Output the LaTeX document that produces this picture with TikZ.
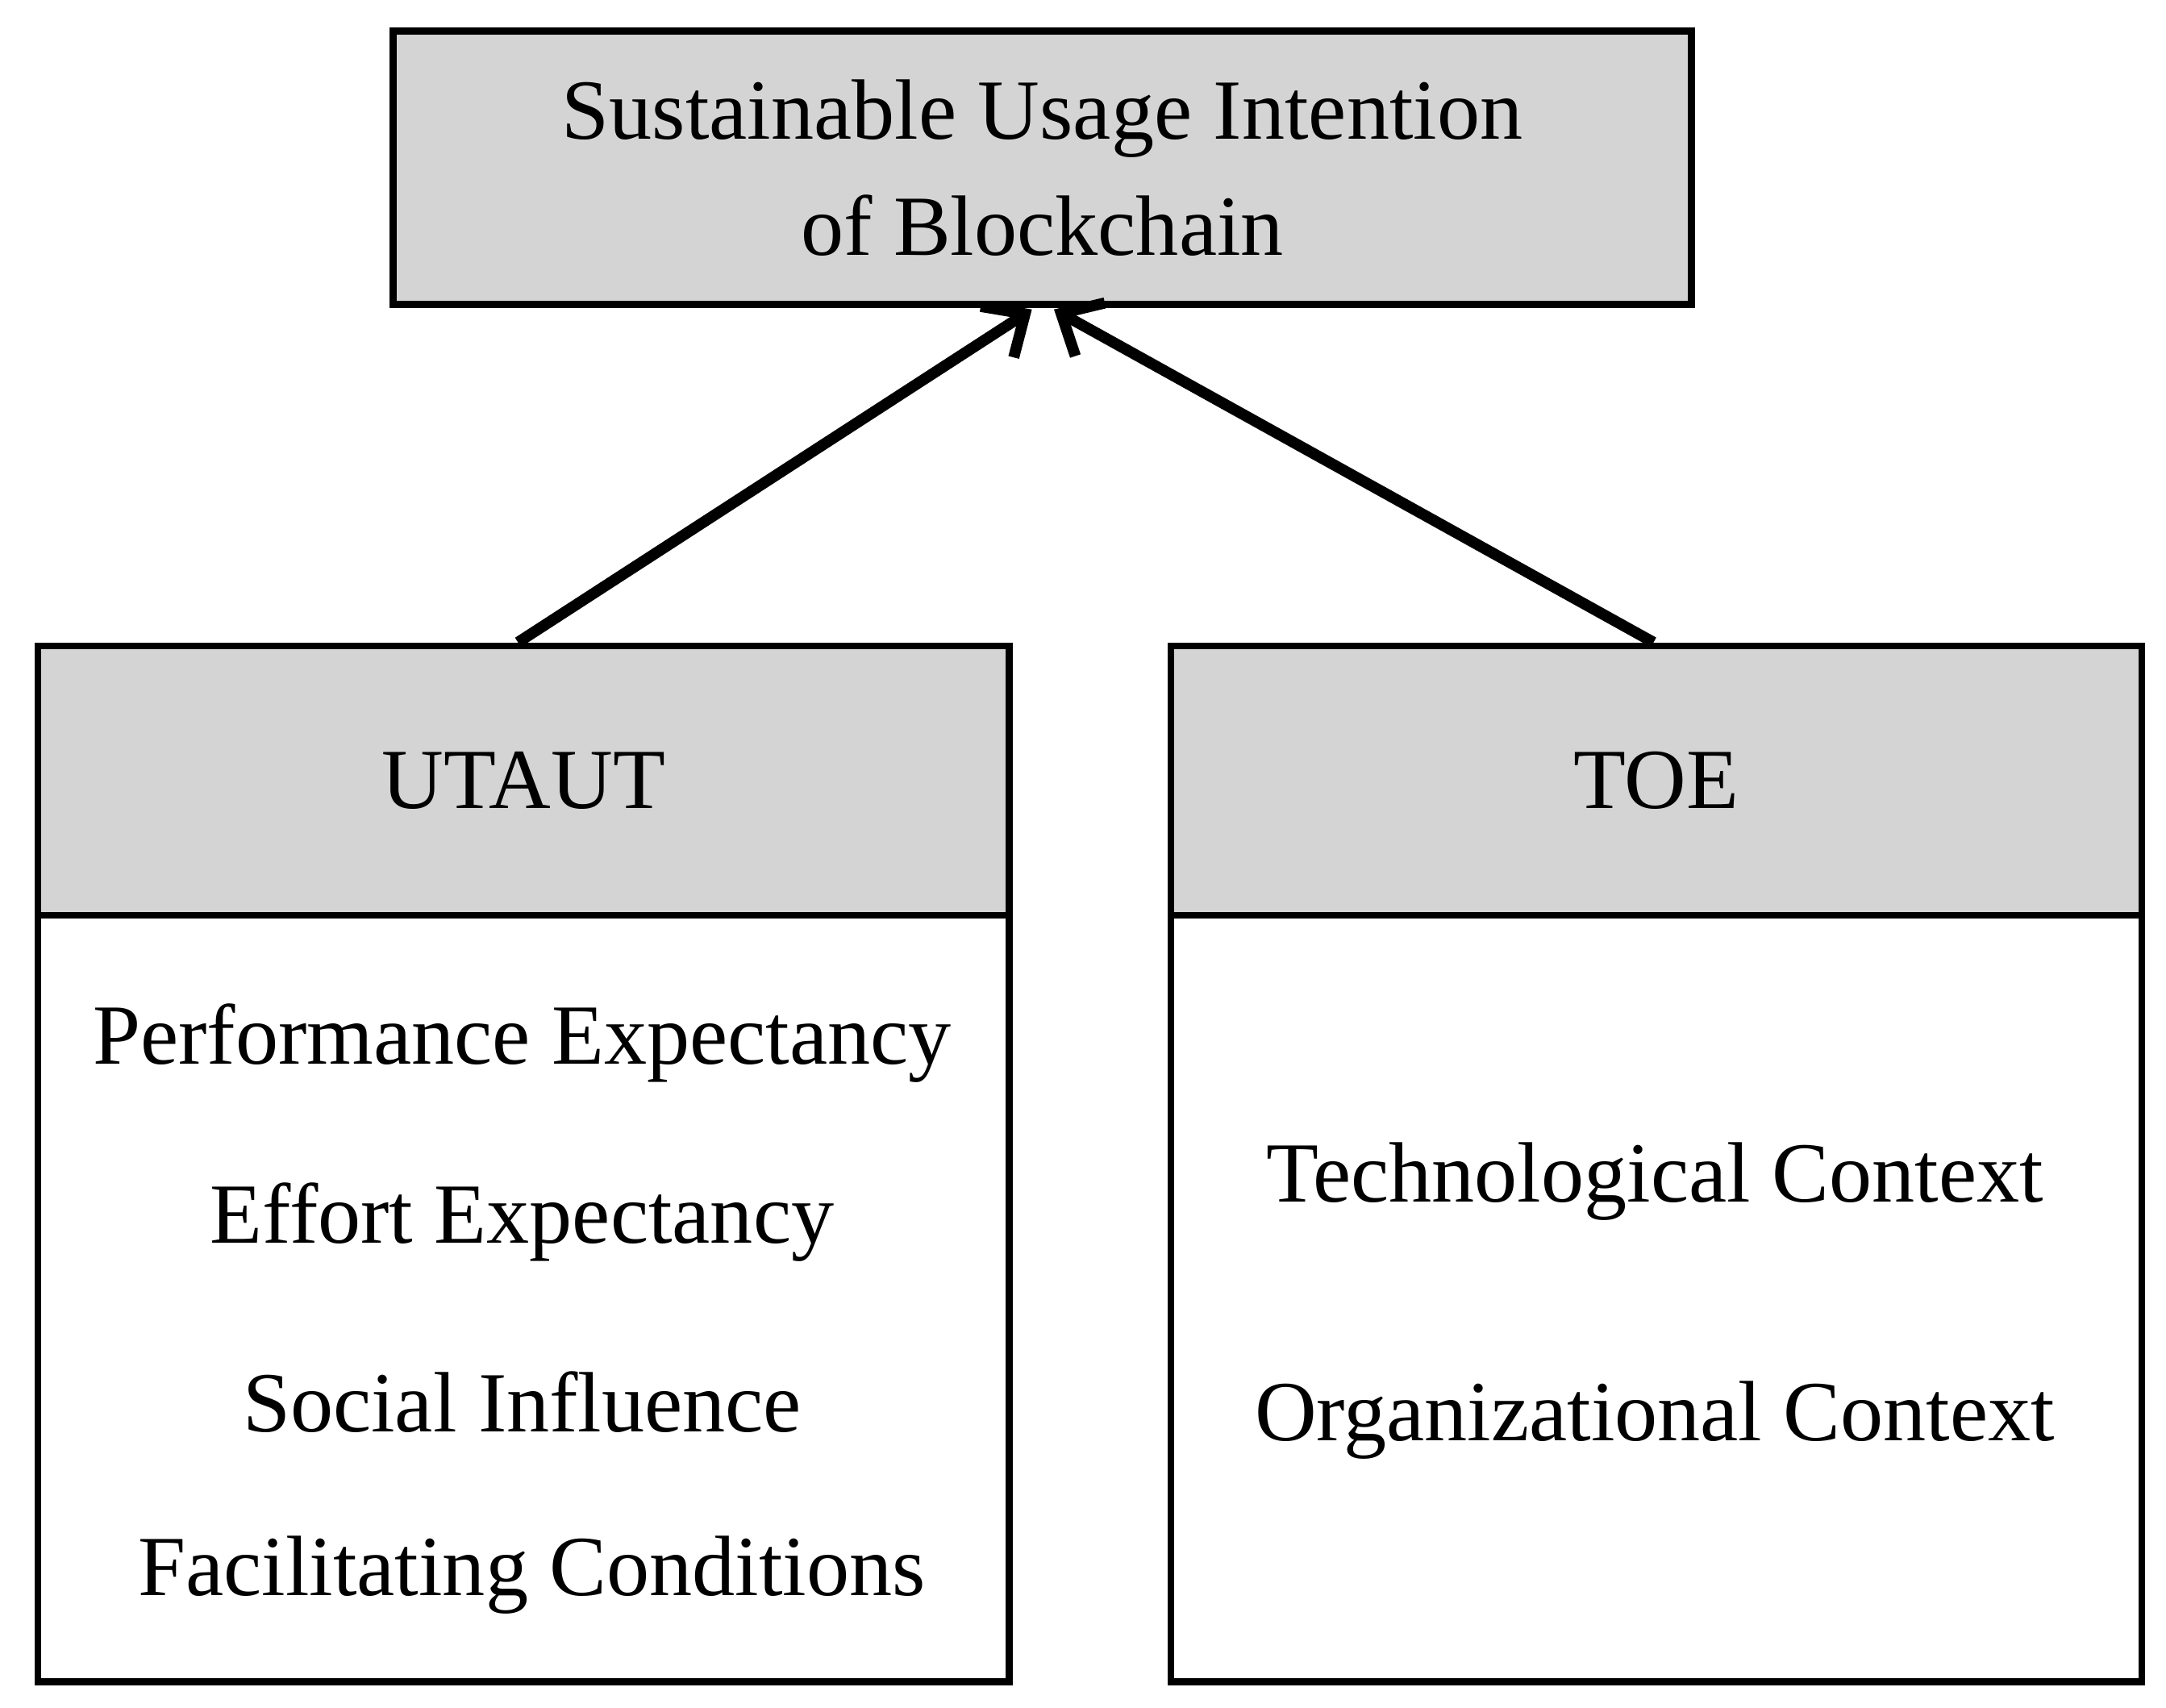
\documentclass[tikz,border=0pt]{standalone}
\usepackage{fontspec}
\setmainfont{Liberation Serif}
\usetikzlibrary{arrows.meta}
\begin{document}
\begin{tikzpicture}[x=1pt,y=-1pt,
  box/.style={draw=black,line width=5pt},
  lbl/.style={font=\fontsize{62}{84}\selectfont,align=center,inner sep=0pt},
  arr/.style={line width=8pt,-{Straight Barb[length=24pt,width=44pt,line width=8pt]}}]
\useasboundingbox (0,0) rectangle (1568,1236);
\node[box,fill=black!17,minimum width=940pt,minimum height=198pt,anchor=north west] (top) at (282,20) {};
\node[lbl] (toptext) at (top.center) {Sustainable Usage Intention\\of Blockchain};
% left
\node[box,fill=black!17,minimum width=703pt,minimum height=195pt,anchor=north west] (uh) at (25,465) {};
\node[box,minimum width=703pt,minimum height=555pt,anchor=north west] (ub) at (25,660) {};
\node[lbl] (ut) at (uh.center) {UTAUT};
\node[lbl] (u1) at (378,755) {Performance Expectancy};
\node[lbl] (u2) at (378,885) {Effort Expectancy};
\node[lbl] (u3) at (378,1015) {Social Influence};
\node[lbl] (u4) at (385,1140) {Facilitating Conditions};
% right
\node[box,fill=black!17,minimum width=703pt,minimum height=195pt,anchor=north west] (th) at (845,465) {};
\node[box,minimum width=703pt,minimum height=555pt,anchor=north west] (tb) at (845,660) {};
\node[lbl] (tt) at (th.center) {TOE};
\node[lbl] (t1) at (1198,855) {Technological Context};
\node[lbl] (t2) at (1198,1028) {Organizational Context};
\coordinate (a1) at (375,465);
\coordinate (a2) at (1197,465);
\coordinate (e1) at (747,224);
\coordinate (e2) at (763,224);
\draw[arr] (a1) -- (e1);
\draw[arr] (a2) -- (e2);
\end{tikzpicture}
\end{document}
